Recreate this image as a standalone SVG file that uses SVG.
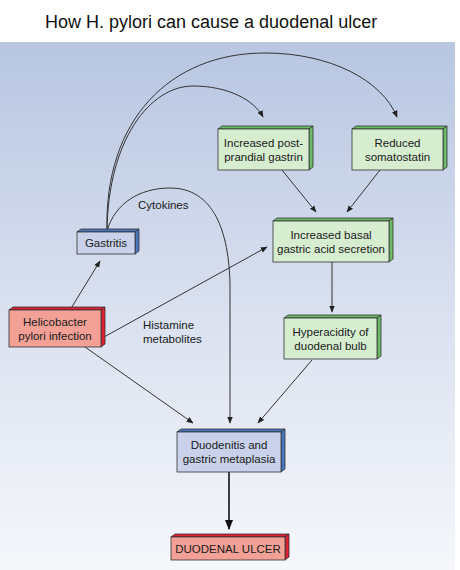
<svg xmlns="http://www.w3.org/2000/svg" width="460" height="570" viewBox="0 0 460 570">
<defs>
<linearGradient id="bg" x1="0" y1="0" x2="0" y2="1">
<stop offset="0" stop-color="#B8C6E2"/>
<stop offset="0.5" stop-color="#D9E0EF"/>
<stop offset="1" stop-color="#F5F7FB"/>
</linearGradient>
<marker id="ah" viewBox="0 0 10 10" refX="9" refY="5" markerWidth="7" markerHeight="7" markerUnits="userSpaceOnUse" orient="auto">
<path d="M0,1 L10,5 L0,9 Z" fill="#222"/>
</marker>
<marker id="ahb" viewBox="0 0 10 10" refX="9" refY="5" markerWidth="10" markerHeight="10" markerUnits="userSpaceOnUse" orient="auto">
<path d="M0,1 L10,5 L0,9 Z" fill="#111"/>
</marker>
</defs>
<style>
text{font-family:"Liberation Sans",Arial,sans-serif;fill:#1a1a1a;}
.t{font-size:11.5px;text-anchor:middle;}
.l{font-size:11.5px;}
.f{stroke:#333;stroke-width:0.8;}
.g{fill:#D6EDD0;}
.gs{fill:#6DBA68;}
.b{fill:#C9D2EA;}
.bs{fill:#4A76BE;}
.r{fill:#F3A197;}
.rs{fill:#DC2233;}
.c{fill:none;stroke:#333;stroke-width:1;marker-end:url(#ah);}
</style>
<rect x="0" y="0" width="460" height="570" fill="#fff"/>
<rect x="0" y="42" width="455" height="528" fill="url(#bg)"/>
<text x="45" y="28" style="font-size:18px;fill:#111;">How H. pylori can cause a duodenal ulcer</text>

<g id="connectors">
<path class="c" d="M107,231 C104,120 170,53 265,53 C330,53 382,80 397,117"/>
<path class="c" d="M107,231 C108,140 150,86 193,86 C228,86 254,100 263,117"/>
<path class="c" d="M107,231 C115,203 140,188 170,188 C214,188 229,232 230,285 L230,423"/>
<path class="c" d="M282,170 L316,212"/>
<path class="c" d="M380,170 L347,212"/>
<path class="c" d="M332,262 L332,312"/>
<path class="c" d="M312,360 L258,423"/>
<path class="c" d="M85,347 L193,423"/>
<path class="c" d="M70,310 L100,261"/>
<path class="c" d="M104,337 L267,247"/>
<path d="M229,472 L229,529" fill="none" stroke="#111" stroke-width="1.6" marker-end="url(#ahb)"/>
<text class="l" x="138" y="209">Cytokines</text>
<text class="l" x="143" y="329">Histamine</text>
<text class="l" x="143" y="343">metabolites</text>
</g>

<g id="gastrin">
<polygon class="f gs" points="218,129 222,126 313,126 309,129"/>
<polygon class="f gs" points="309,129 313,126 313,167 309,170"/>
<rect class="f g" x="218" y="129" width="91" height="41"/>
<text class="t" x="263.5" y="147">Increased post-</text>
<text class="t" x="263.5" y="161">prandial gastrin</text>
</g>

<g id="somatostatin">
<polygon class="f gs" points="352,129 356,126 447,126 443,129"/>
<polygon class="f gs" points="443,129 447,126 447,167 443,170"/>
<rect class="f g" x="352" y="129" width="91" height="41"/>
<text class="t" x="397.5" y="147">Reduced</text>
<text class="t" x="397.5" y="161">somatostatin</text>
</g>

<g id="basal">
<polygon class="f gs" points="273,221 277,218 393,218 389,221"/>
<polygon class="f gs" points="389,221 393,218 393,259 389,262"/>
<rect class="f g" x="273" y="221" width="116" height="41"/>
<text class="t" x="331" y="239">Increased basal</text>
<text class="t" x="331" y="253">gastric acid secretion</text>
</g>

<g id="gastritis">
<polygon class="f bs" points="77,232 81,229 139,229 135,232"/>
<polygon class="f bs" points="135,232 139,229 139,251 135,254"/>
<rect class="f b" x="77" y="232" width="58" height="22"/>
<text class="t" x="106" y="247">Gastritis</text>
</g>

<g id="helicobacter">
<polygon class="f rs" points="9,310 13,307 105,307 101,310"/>
<polygon class="f rs" points="101,310 105,307 105,344 101,347"/>
<rect class="f r" x="9" y="310" width="92" height="37"/>
<text class="t" x="55" y="326">Helicobacter</text>
<text class="t" x="55" y="340">pylori infection</text>
</g>

<g id="hyperacidity">
<polygon class="f gs" points="284,318 288,315 381,315 377,318"/>
<polygon class="f gs" points="377,318 381,315 381,356 377,359"/>
<rect class="f g" x="284" y="318" width="93" height="41"/>
<text class="t" x="330.5" y="336">Hyperacidity of</text>
<text class="t" x="330.5" y="350">duodenal bulb</text>
</g>

<g id="duodenitis">
<polygon class="f bs" points="177,432 181,429 285,429 281,432"/>
<polygon class="f bs" points="281,432 285,429 285,469 281,472"/>
<rect class="f b" x="177" y="432" width="104" height="40"/>
<text class="t" x="229" y="449">Duodenitis and</text>
<text class="t" x="229" y="463">gastric metaplasia</text>
</g>

<g id="ulcer">
<polygon class="f rs" points="171,537 175,534 289,534 285,537"/>
<polygon class="f rs" points="285,537 289,534 289,557 285,560"/>
<rect class="f r" x="171" y="537" width="114" height="23"/>
<text class="t" x="228" y="553">DUODENAL ULCER</text>
</g>
</svg>
